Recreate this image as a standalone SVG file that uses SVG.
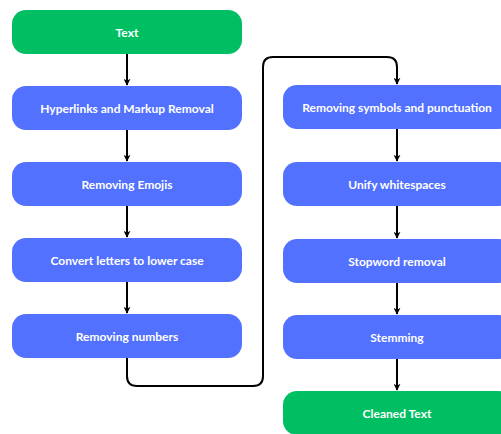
<svg xmlns="http://www.w3.org/2000/svg" width="501" height="434" viewBox="0 0 501 434">
<style>
.g{fill:#00bf63}
.b{fill:#5271ff}
.t{fill:#fff;font-family:Lato,"Liberation Sans",sans-serif;font-weight:bold;font-size:12px;text-anchor:middle;dominant-baseline:central}
.c{fill:none;stroke:#000;stroke-width:2}
</style>
<defs>
<marker id="ah" viewBox="0 0 10 10" refX="9" refY="5" markerWidth="7" markerHeight="7" orient="auto" markerUnits="userSpaceOnUse">
<path d="M0,0 L10,5 L0,10 L3,5 Z" fill="#000"/>
</marker>
</defs>
<rect width="501" height="434" fill="#fff"/>
<g id="connectors">
<path class="c" d="M127,54 V85" marker-end="url(#ah)"/>
<path class="c" d="M127,130 V161" marker-end="url(#ah)"/>
<path class="c" d="M127,206 V237" marker-end="url(#ah)"/>
<path class="c" d="M127,282 V313" marker-end="url(#ah)"/>
<path class="c" d="M127,358 V376 Q127,386 137,386 H253 Q263,386 263,376 V67 Q263,57 273,57 H387 Q397,57 397,67 V84" marker-end="url(#ah)"/>
<path class="c" d="M397,129 V161" marker-end="url(#ah)"/>
<path class="c" d="M397,206 V238" marker-end="url(#ah)"/>
<path class="c" d="M397,283 V314" marker-end="url(#ah)"/>
<path class="c" d="M397,359 V390" marker-end="url(#ah)"/>
</g>
<g id="n1"><rect class="g" x="12" y="10" width="230" height="44" rx="14"/><text class="t" x="127" y="32">Text</text></g>
<g id="n2"><rect class="b" x="12" y="86" width="230" height="44" rx="14"/><text class="t" x="127" y="108">Hyperlinks and Markup Removal</text></g>
<g id="n3"><rect class="b" x="12" y="162" width="230" height="44" rx="14"/><text class="t" x="127" y="184">Removing Emojis</text></g>
<g id="n4"><rect class="b" x="12" y="238" width="230" height="44" rx="14"/><text class="t" x="127" y="260">Convert letters to lower case</text></g>
<g id="n5"><rect class="b" x="12" y="314" width="230" height="44" rx="14"/><text class="t" x="127" y="336">Removing numbers</text></g>
<g id="n6"><rect class="b" x="283" y="85" width="230" height="44" rx="14"/><text class="t" x="397" y="107">Removing symbols and punctuation</text></g>
<g id="n7"><rect class="b" x="283" y="162" width="230" height="44" rx="14"/><text class="t" x="397" y="184">Unify whitespaces</text></g>
<g id="n8"><rect class="b" x="283" y="239" width="230" height="44" rx="14"/><text class="t" x="397" y="261">Stopword removal</text></g>
<g id="n9"><rect class="b" x="283" y="315" width="230" height="44" rx="14"/><text class="t" x="397" y="337">Stemming</text></g>
<g id="n10"><rect class="g" x="283" y="391" width="230" height="44" rx="14"/><text class="t" x="397" y="413">Cleaned Text</text></g>
</svg>
